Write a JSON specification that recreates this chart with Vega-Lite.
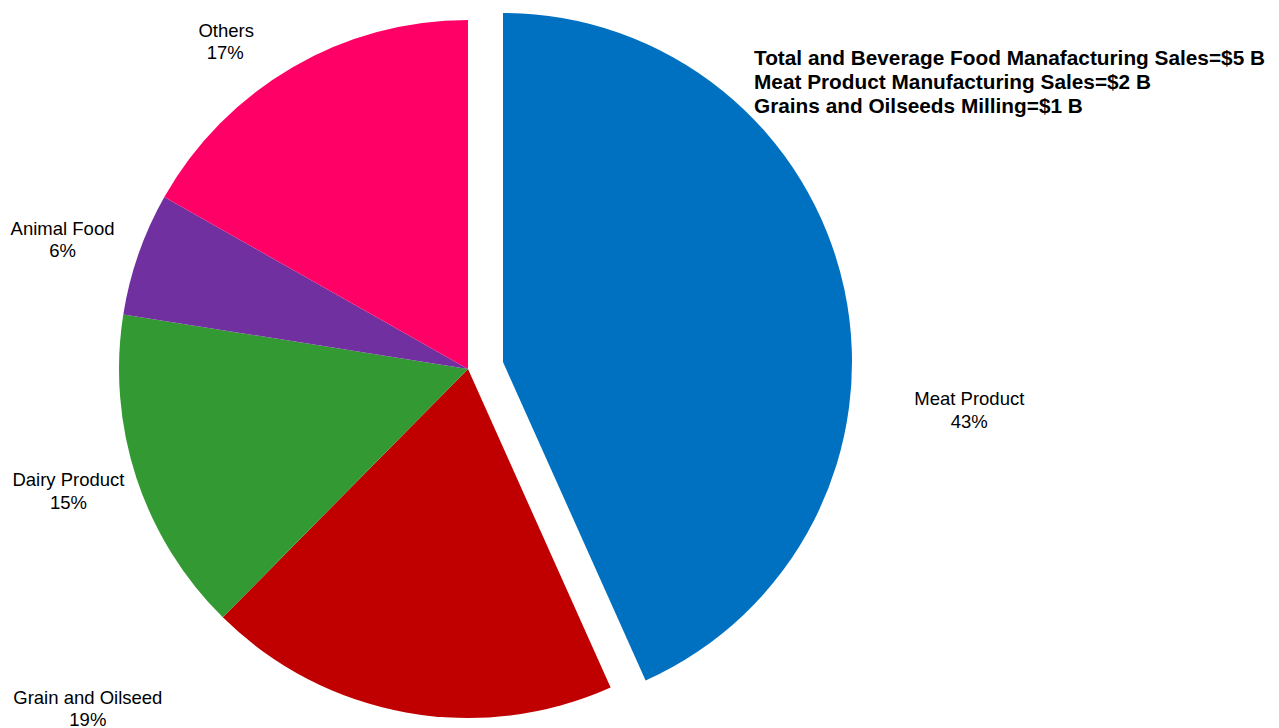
{
  "$schema": "https://vega.github.io/schema/vega-lite/v6.json",
  "width": 936,
  "height": 720,
  "autosize": {"type": "none"},
  "padding": {"left": 0, "top": 9, "right": 343, "bottom": 0},
  "background": "white",
  "config": {"view": {"stroke": null}, "font": "Liberation Sans"},
  "title": {
    "text": ["Total and Beverage Food Manafacturing Sales=$5 B", "Meat Product Manufacturing Sales=$2 B", "Grains and Oilseeds Milling=$1 B"],
    "orient": "top",
    "anchor": "start",
    "frame": "group",
    "align": "left",
    "baseline": "top",
    "offset": 0,
    "dx": 754,
    "dy": 109,
    "lineHeight": 24,
    "font": "Liberation Sans",
    "fontSize": 20.8,
    "fontWeight": "bold",
    "color": "#000000"
  },
  "data": {
    "values": [
      {"category": "Meat Product", "share": 0.433, "rank": 1},
      {"category": "Grain and Oilseed", "share": 0.191, "rank": 2},
      {"category": "Dairy Product", "share": 0.151, "rank": 3},
      {"category": "Animal Food", "share": 0.057, "rank": 4},
      {"category": "Others", "share": 0.168, "rank": 5}
    ]
  },
  "encoding": {
    "theta": {"field": "share", "type": "quantitative", "stack": true},
    "order": {"field": "rank", "type": "quantitative", "sort": "ascending"}
  },
  "layer": [
    {
      "mark": {"type": "arc", "outerRadius": 349},
      "encoding": {
        "color": {"field": "category", "type": "nominal", "legend": null,
          "scale": {"domain": ["Meat Product", "Grain and Oilseed", "Dairy Product", "Animal Food", "Others"],
                    "range": ["#0070C0", "#C00000", "#339933", "#7030A0", "#FF0066"]}},
        "opacity": {"condition": {"test": "datum.category === 'Meat Product'", "value": 0}, "value": 1}
      }
    },
    {
      "mark": {"type": "arc", "outerRadius": 349, "xOffset": 35, "yOffset": -7},
      "encoding": {
        "color": {"field": "category", "type": "nominal", "legend": null},
        "opacity": {"condition": {"test": "datum.category === 'Meat Product'", "value": 1}, "value": 0}
      }
    },
    {
      "mark": {"type": "text", "radius": 349, "dx": 160, "dy": 103, "fontSize": 18.5, "font": "Liberation Sans", "align": "center", "baseline": "middle", "color": "#000000"},
      "encoding": {"text": {"condition": {"test": "datum.category === 'Meat Product'", "field": "category"}, "value": ""}}
    },
    {
      "mark": {"type": "text", "radius": 349, "dx": 160, "dy": 126, "fontSize": 18.5, "font": "Liberation Sans", "align": "center", "baseline": "middle", "color": "#000000"},
      "encoding": {"text": {"condition": {"test": "datum.category === 'Meat Product'", "field": "share", "type": "quantitative", "format": ".0%"}, "value": ""}}
    },
    {
      "mark": {"type": "text", "radius": 349, "dx": -318, "dy": -14, "fontSize": 18.5, "font": "Liberation Sans", "align": "center", "baseline": "middle", "color": "#000000"},
      "encoding": {"text": {"condition": {"test": "datum.category === 'Grain and Oilseed'", "field": "category"}, "value": ""}}
    },
    {
      "mark": {"type": "text", "radius": 349, "dx": -318, "dy": 8, "fontSize": 18.5, "font": "Liberation Sans", "align": "center", "baseline": "middle", "color": "#000000"},
      "encoding": {"text": {"condition": {"test": "datum.category === 'Grain and Oilseed'", "field": "share", "type": "quantitative", "format": ".0%"}, "value": ""}}
    },
    {
      "mark": {"type": "text", "radius": 349, "dx": -68, "dy": 2, "fontSize": 18.5, "font": "Liberation Sans", "align": "center", "baseline": "middle", "color": "#000000"},
      "encoding": {"text": {"condition": {"test": "datum.category === 'Dairy Product'", "field": "category"}, "value": ""}}
    },
    {
      "mark": {"type": "text", "radius": 349, "dx": -68, "dy": 25, "fontSize": 18.5, "font": "Liberation Sans", "align": "center", "baseline": "middle", "color": "#000000"},
      "encoding": {"text": {"condition": {"test": "datum.category === 'Dairy Product'", "field": "share", "type": "quantitative", "format": ".0%"}, "value": ""}}
    },
    {
      "mark": {"type": "text", "radius": 349, "dx": -76, "dy": -25, "fontSize": 18.5, "font": "Liberation Sans", "align": "center", "baseline": "middle", "color": "#000000"},
      "encoding": {"text": {"condition": {"test": "datum.category === 'Animal Food'", "field": "category"}, "value": ""}}
    },
    {
      "mark": {"type": "text", "radius": 349, "dx": -76, "dy": -3, "fontSize": 18.5, "font": "Liberation Sans", "align": "center", "baseline": "middle", "color": "#000000"},
      "encoding": {"text": {"condition": {"test": "datum.category === 'Animal Food'", "field": "share", "type": "quantitative", "format": ".0%"}, "value": ""}}
    },
    {
      "mark": {"type": "text", "radius": 349, "dx": -66, "dy": -36, "fontSize": 18.5, "font": "Liberation Sans", "align": "center", "baseline": "middle", "color": "#000000"},
      "encoding": {"text": {"condition": {"test": "datum.category === 'Others'", "field": "category"}, "value": ""}}
    },
    {
      "mark": {"type": "text", "radius": 349, "dx": -67, "dy": -14, "fontSize": 18.5, "font": "Liberation Sans", "align": "center", "baseline": "middle", "color": "#000000"},
      "encoding": {"text": {"condition": {"test": "datum.category === 'Others'", "field": "share", "type": "quantitative", "format": ".0%"}, "value": ""}}
    }
  ]
}
